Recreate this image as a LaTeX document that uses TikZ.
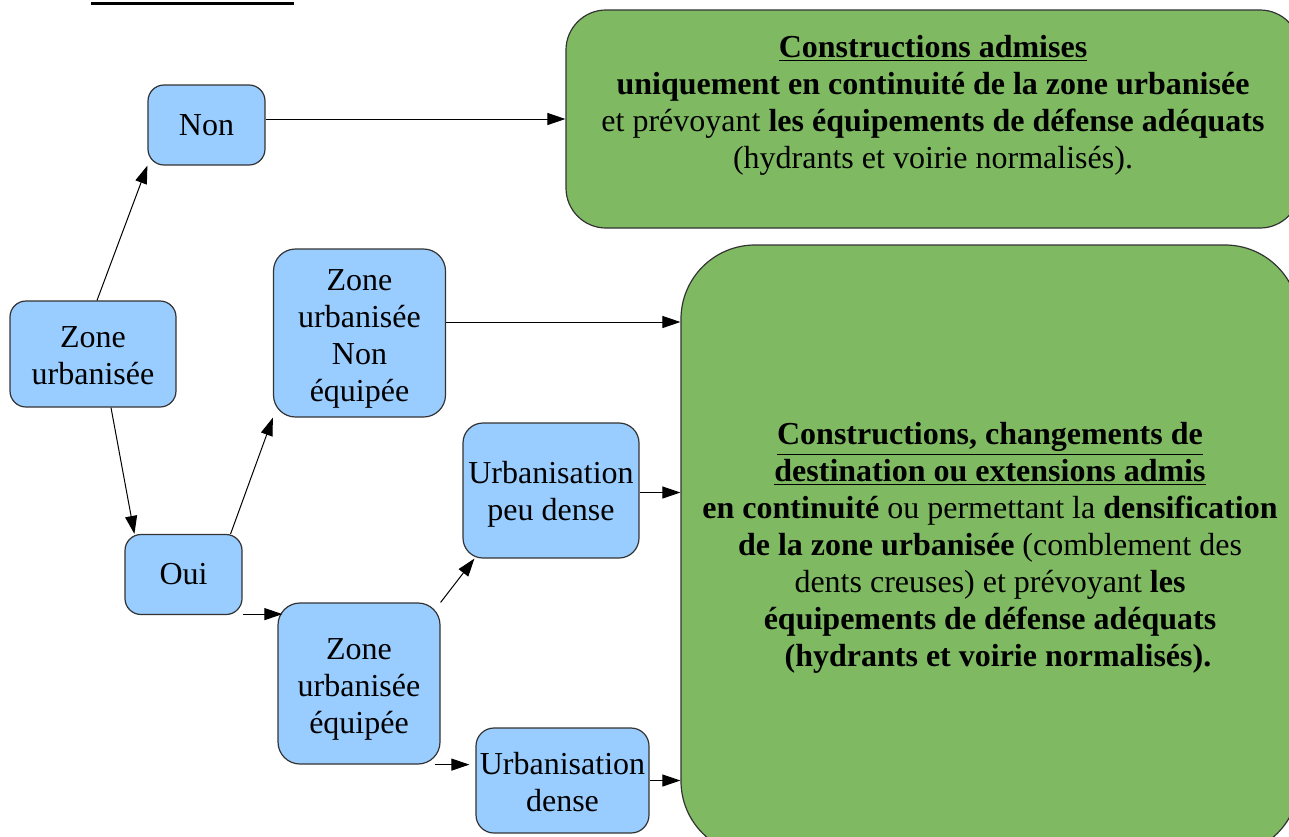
\documentclass[tikz,border=0pt]{standalone}
\usepackage{fontspec}
\setmainfont{Liberation Serif}
\usetikzlibrary{arrows.meta}
\definecolor{bluebox}{HTML}{99CCFF}
\definecolor{greenbox}{HTML}{7FBA62}
\definecolor{edgegray}{HTML}{333333}
\newcommand\lowerby[1]{\rule{0pt}{#1}}
\begin{document}
\begin{tikzpicture}[x=0.5pt,y=-0.5pt,
  txt/.style={font=\fontsize{16pt}{18.5pt}\selectfont, align=center},
  bbox/.style={draw=edgegray, line width=0.6pt, fill=bluebox, rounded corners=8pt, inner sep=0pt, txt},
  gbox/.style={draw=edgegray, line width=0.6pt, fill=greenbox, inner sep=0pt},
  arr/.style={-{Triangle[length=9pt,width=6pt]}, line width=0.5pt, black}]
\useasboundingbox (0,0) rectangle (1289,836);
\clip (0,0) rectangle (1289,836);
\draw[line width=1.5pt] (91,3) -- (294,3);
% green boxes
\node[gbox, rounded corners=20pt, minimum width=367pt, minimum height=109pt] (g1) at (933,119) {};
\node[txt] (g1t) at (933,105) {\underline{\textbf{Constructions admises}}\\
  \textbf{uniquement en continuité de la zone urbanisée}\\
  et prévoyant \textbf{les équipements de défense adéquats}\\
  (hydrants et voirie normalisés).};
\node[gbox, rounded corners=37pt, minimum width=309pt, minimum height=305pt] (g2) at (990,550) {};
\node[txt] (g2t) at (990,548) {\underline{\textbf{Constructions, changements de}}\\
  \underline{\textbf{destination ou extensions admis}}\\
  \textbf{en continuité} ou permettant la \textbf{densification}\\
  \textbf{de la zone urbanisée} (comblement des\\
  dents creuses) et prévoyant \textbf{les}\\
  \textbf{équipements de défense adéquats}\\
  \hspace*{8pt}\textbf{(hydrants et voirie normalisés).}};
% blue boxes
\node[bbox, minimum width=58.5pt, minimum height=40pt] (non) at (206.5,125) {Non};
\node[bbox, minimum width=83pt, minimum height=53pt] (zu) at (93,354) {\lowerby{12.6pt}Zone\\urbanisée};
\node[bbox, minimum width=58.5pt, minimum height=40pt] (oui) at (183.5,574.5) {Oui};
\node[bbox, rounded corners=11pt, minimum width=86pt, minimum height=84pt] (zune) at (359.5,333) {\lowerby{16.6pt}Zone\\urbanisée\\Non\\équipée};
\node[bbox, rounded corners=11pt, minimum width=81pt, minimum height=80.5pt] (zue) at (359,683.5) {\lowerby{16.6pt}Zone\\urbanisée\\équipée};
\node[bbox, rounded corners=10pt, minimum width=88pt, minimum height=67.5pt] (upd) at (551,490.5) {\lowerby{14.9pt}Urbanisation\\peu dense};
\node[bbox, rounded corners=9pt, minimum width=86.5pt, minimum height=52.5pt] (ud) at (562.5,780.5) {\lowerby{12.9pt}Urbanisation\\dense};
% connectors
\draw[arr] ([xshift=2pt]zu.north) -- (non.south west);
\draw[arr] ([xshift=9pt]zu.south) -- ([xshift=5pt]oui.north west);
\draw[arr] ([yshift=3pt]non.east) -- ([yshift=3pt]non.east -| g1.west);
\draw[arr] ([xshift=-6pt]oui.north east) -- (zune.south west);
\draw[arr] ([yshift=0.5pt]oui.south east) -- ([xshift=2.5pt,yshift=0.5pt]oui.south east -| zue.west);
\draw[arr] ([yshift=5.5pt]zune.east) -- ([yshift=5.5pt]zune.east -| g2.west);
\draw[arr] (zue.north east) -- ([xshift=6pt]upd.south west);
\draw[arr] ([xshift=-3pt]zue.south east) -- ([xshift=-3pt]zue.south east -| ud.west);
\draw[arr] ([yshift=-1pt]upd.east) -- ([yshift=-1pt]upd.east -| g2.west);
\draw[arr] (ud.east) -- (ud.east -| g2.west);
\end{tikzpicture}
\end{document}
